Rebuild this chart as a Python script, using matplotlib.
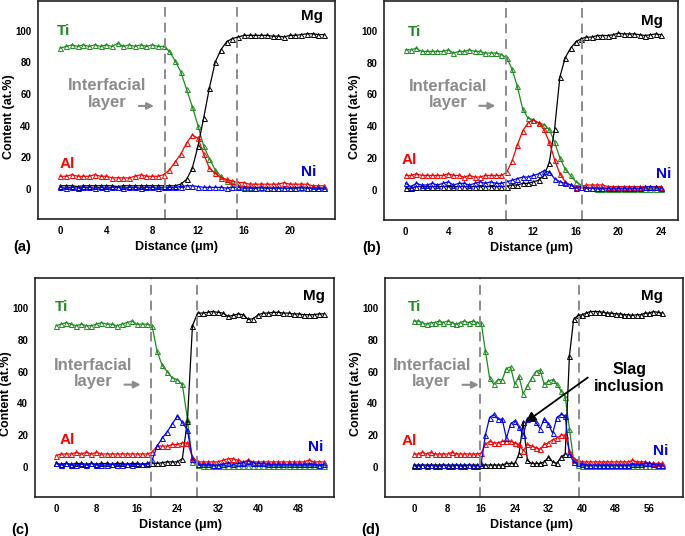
import numpy as np
import matplotlib
matplotlib.use('Agg')
import matplotlib.pyplot as plt

plt.rcParams['font.family'] = ['Liberation Sans', 'DejaVu Sans']
plt.rcParams['font.weight'] = 'bold'

# ---- panel (a): 0-23 um, step 0.5
dist_a = np.arange(0, 23.01, 0.5)
ti_a = [89, 90, 91, 90, 91, 90, 91, 90, 91, 90,
        92, 90, 91, 90, 91, 90, 91, 90, 90, 87,
        81, 74, 63, 52, 40, 27, 19, 12, 8, 5,
        3, 2, 1, 1, 0.5, 0.5, 0.5, 0.5, 0.5, 0.5,
        0.5, 0.5, 0.5, 0.5, 0.5, 0.5, 0.5]
mg_a = [2, 2, 2, 1.5, 2, 2, 2, 2, 2, 2,
        1.5, 2, 2, 2, 2, 2, 2, 2, 2, 2,
        2, 3, 6, 13, 27, 45, 64, 80, 88, 93,
        95, 96, 97, 97, 97, 97, 97, 96.5, 96.5, 96,
        97, 97, 97.5, 98, 98, 97.5, 97.5]
al_a = [8, 8, 9, 8, 8, 8, 9, 8, 8, 7,
        7, 7, 7, 8, 9, 8, 8, 8, 9, 12,
        17, 22, 29, 34, 32, 22, 13, 10, 7, 6,
        5, 4, 4, 3, 3, 3, 3, 3, 3, 4,
        3, 3, 3, 3, 2, 2, 2]
ni_a = [1, 0.5, 1, 0.5, 1, 1, 0.5, 1, 0.5, 1,
        1, 0.5, 1, 1, 0.5, 1, 1, 0.5, 1, 1,
        1, 1.5, 2, 2, 1.5, 1, 1, 1, 1, 0.5,
        1, 1, 0.5, 0.5, 0.5, 1, 0.5, 0.5, 0.5, 0.5,
        0.5, 0.5, 1, 0.5, 0.5, 0.5, 0.5]

# ---- panel (b): 0-24 um, step 0.5
dist_b = np.arange(0, 24.01, 0.5)
ti_b = [88, 88, 89, 87, 87, 87, 87, 87, 88, 86,
        87, 87, 88, 87, 87, 86, 86, 86, 85, 83,
        76, 65, 51, 45, 44, 42, 41, 38, 30, 20,
        13, 9, 5, 3, 1, 1, 0.5, 0.5, 0.5, 0.5,
        0.5, 0.5, 0.5, 0.5, 0.5, 0.5, 0.5, 0.5, 0.5]
mg_b = [1, 1, 2, 2, 2, 2, 2, 2, 2, 2,
        2, 2, 2, 2, 2, 2, 2, 2, 2, 2,
        3, 3, 4, 4, 5, 6, 9, 17, 38, 71,
        83, 89, 93, 95, 96, 96, 97, 97, 97, 97.5,
        98.5, 98, 98, 98, 97.5, 97, 97.5, 98, 97.5]
al_b = [9, 9, 10, 9, 9, 9, 9, 9, 10, 9,
        9, 8, 9, 8, 8, 9, 9, 9, 9, 11,
        18, 28, 37, 42, 44, 42, 38, 30, 19, 10,
        5, 3, 2, 2, 3, 3, 3, 3, 2, 2,
        2, 2, 2, 2, 2, 2, 2, 2, 2]
ni_b = [4, 2, 4, 3, 3, 4, 3, 4, 5, 3,
        4, 4, 3, 4, 5, 4, 5, 4, 4, 5,
        6, 7, 8, 8, 9, 10, 12, 11, 7, 5,
        4, 3, 1, 2, 1, 1, 1, 1, 1, 1,
        1, 1, 1, 1, 1, 1.5, 2, 1.5, 1]

# ---- panel (c): 0-53 um, step 1
dist_c = np.arange(0, 54, 1)
ti_c = [89, 90, 91, 90, 89, 90, 89, 89, 90, 91,
        90, 90, 89, 90, 91, 92, 90, 90, 90, 89,
        73, 64, 60, 56, 55, 52, 30, 3, 1, 0.5,
        0.5, 0.5, 0.5, 0.5, 0.5, 0.5, 0.5, 0.5, 0.5, 0.5,
        0.5, 0.5, 0.5, 0.5, 0.5, 0.5, 0.5, 0.5, 0.5, 0.5,
        0.5, 0.5, 0.5, 0.5]
mg_c = [2, 1.5, 2, 1.5, 2, 2, 1.5, 2, 1.5, 2,
        2, 1.5, 2, 2, 1.5, 2, 2, 1.5, 2, 2,
        2, 2.5, 3, 3, 3, 5, 29, 89, 97, 97,
        97.5, 98, 97.5, 97, 95, 95.5, 96.5, 96, 93, 93.5,
        96, 97, 97, 97.5, 97.5, 97, 97, 96.5, 96.5, 96,
        96, 96, 96.5, 96.5]
al_c = [7, 8, 8, 8, 9, 8, 9, 8, 9, 8,
        8, 8, 8, 8, 8, 8, 8, 8, 8, 9,
        13, 13, 13, 14, 14, 15, 15, 6, 3, 3,
        3, 3, 3, 4, 5, 5, 4, 3, 4, 3,
        3, 3, 3, 3, 3, 3, 3, 3, 3, 3,
        4, 3, 3, 3]
ni_c = [2, 1, 2, 1, 1, 1.5, 1, 2, 1, 1,
        1, 1.5, 1, 1, 1.5, 1, 1.5, 1.5, 1.5, 4,
        13, 18, 22, 27, 32, 28, 23, 5, 1.5, 1.5,
        1.5, 1, 1, 1.5, 2, 1.5, 2, 2.5, 3.5, 2.5,
        2, 2, 1.5, 1.5, 1.5, 1.5, 1.5, 1.5, 1.5, 1.5,
        1.5, 1.5, 1, 1.5]

# ---- panel (d): 0-59 um, step 1
dist_d = np.arange(0, 60, 1)
ti_d = [92, 92, 91, 90, 91, 91, 92, 91, 92, 91,
        90, 91, 92, 91, 92, 91, 91, 73, 56, 52,
        55, 55, 62, 63, 52, 57, 46, 51, 56, 60,
        61, 52, 54, 55, 52, 48, 44, 24, 4, 1,
        0.5, 0.5, 0.5, 0.5, 0.5, 0.5, 0.5, 0.5, 0.5, 0.5,
        0.5, 0.5, 0.5, 0.5, 0.5, 0.5, 0.5, 0.5, 0.5, 0.5]
mg_d = [1, 1, 1, 1, 1, 1, 1, 1, 1, 1,
        1, 1, 1, 1, 1, 1, 1, 1, 1, 1,
        1, 1, 2, 2, 2, 8, 28, 4, 2, 2,
        2, 3, 6, 3, 2, 6, 8, 70, 93, 95.5,
        96, 97, 98, 98, 98, 97.5, 97, 97, 96.5, 96.5,
        96, 96, 95.5, 96, 96, 97, 97, 98, 97.5, 97]
al_d = [8, 8, 9, 8, 9, 8, 8, 8, 8, 9,
        8, 8, 8, 8, 8, 8, 8.5, 14, 16, 15,
        15, 16, 16, 16, 15, 14, 10, 14, 13, 12,
        11, 14, 15, 17, 18, 20, 20, 10, 5, 4,
        3, 3, 3, 3, 3, 3, 3, 3, 3, 3,
        3, 3, 4, 3, 3, 3, 2, 2, 2, 2]
ni_d = [0.5, 0.5, 1, 0.5, 1, 0.5, 0.5, 1, 0.5, 0.5,
        1, 0.5, 0.5, 1, 0.5, 0.5, 2, 20, 31, 33,
        30, 30, 18, 27, 29, 25, 20, 30, 31, 28,
        24, 30, 27, 21, 31, 33, 32, 8, 3, 2,
        1.5, 1, 1, 1, 1, 1, 1, 1, 1, 1,
        1, 1, 1.5, 1.5, 1.5, 2, 2, 1.5, 1, 1]

# interface boundaries (dashed lines)
bounds_a = [9.1, 15.4]
bounds_b = [9.4, 16.6]
bounds_c = [18.7, 27.8]
bounds_d = [15.7, 39.3]

green = '#1e8c1e'
red = '#ff0000'
blue = '#0000ff'
gray = '#8c8c8c'

fig = plt.figure(figsize=(6.85, 5.36), dpi=100)


def draw_panel(rect, x, ti, mg, al, ni, bounds, xlim, xticks, letter, txt):
    ax = fig.add_axes(rect)
    kw = dict(marker='^', ms=3.6, mfc='none', mew=0.7, lw=0.9)
    ax.plot(x, ti, color=green, **kw)
    ax.plot(x, mg, color='black', **kw)
    ax.plot(x, al, color=red, **kw)
    ax.plot(x, ni, color=blue, **kw)
    for b in bounds:
        ax.axvline(b, color=gray, ls=(0, (5, 3)), lw=1.4)

    ax.set_xlim(*xlim)
    ax.set_ylim(-19, 119)
    ax.set_xticks(xticks)
    ax.set_yticks([0, 20, 40, 60, 80, 100])
    ax.tick_params(length=0, labelsize=7, pad=5)
    for s in ax.spines.values():
        s.set_linewidth(1.2)
        s.set_color('#222222')

    ax.set_xlabel('Distance (μm)', fontsize=9, fontweight='bold')
    ax.set_ylabel('Content (at.%)', fontsize=9, fontweight='bold')
    ax.xaxis.set_label_coords(txt['xlab'], -0.10)
    ax.yaxis.set_label_coords(-0.078, 0.47)
    ax.text(txt['letter'][0], txt['letter'][1], letter, transform=ax.transAxes,
            fontsize=10.5, fontweight='bold', ha='left', va='center')

    # element labels
    ax.text(*txt['Ti'], 'Ti', color=green, fontsize=11, ha='left', va='center')
    ax.text(*txt['Mg'], 'Mg', color='black', fontsize=11, ha='right', va='center')
    ax.text(*txt['Al'], 'Al', color=red, fontsize=11, ha='left', va='center')
    ax.text(*txt['Ni'], 'Ni', color=blue, fontsize=11, ha='right', va='center')

    # interfacial layer note
    ax.text(*txt['inter'], 'Interfacial\nlayer', color=gray, fontsize=12,
            ha='center', va='center', linespacing=1.1)
    (x0, x1, ya) = txt['arrow']
    ax.annotate('', xy=(x1, ya), xytext=(x0, ya),
                arrowprops=dict(arrowstyle='-|>', color=gray, lw=1.5,
                                mutation_scale=10))
    return ax


draw_panel([0.0555, 0.5914, 0.4336, 0.4076], dist_a, ti_a, mg_a, al_a, ni_a,
           bounds_a, (-1.95, 23.95), [0, 4, 8, 12, 16, 20], '(a)',
           {'xlab': 0.467, 'letter': (-0.085, -0.128),
            'Ti': (-0.3, 100), 'Mg': (22.9, 109), 'Al': (-0.1, 16),
            'Ni': (22.3, 11), 'inter': (4.05, 60), 'arrow': (6.6, 8.4, 52.4)})

draw_panel([0.561, 0.5896, 0.4288, 0.4094], dist_b, ti_b, mg_b, al_b, ni_b,
           bounds_b, (-2.0, 25.6), [0, 4, 8, 12, 16, 20, 24], '(b)',
           {'xlab': 0.5, 'letter': (-0.075, -0.128),
            'Ti': (0.25, 99), 'Mg': (24.2, 106), 'Al': (-0.4, 19),
            'Ni': (25.0, 9.6), 'inter': (4.0, 60), 'arrow': (6.67, 8.7, 52.8)})

draw_panel([0.0511, 0.0733, 0.4365, 0.4075], dist_c, ti_c, mg_c, al_c, ni_c,
           bounds_c, (-4.15, 55.0), [0, 8, 16, 24, 32, 40, 48], '(c)',
           {'xlab': 0.486, 'letter': (-0.08, -0.152),
            'Ti': (-0.2, 100.6), 'Mg': (53.2, 108), 'Al': (0.8, 17),
            'Ni': (52.9, 12.7), 'inter': (7.4, 59), 'arrow': (13.0, 17.3, 51.8)})

ax_d = draw_panel([0.562, 0.0733, 0.4355, 0.4075], dist_d, ti_d, mg_d, al_d, ni_d,
                  bounds_d, (-6.9, 64.1), [0, 8, 16, 24, 32, 40, 48, 56], '(d)',
                  {'xlab': 0.49, 'letter': (-0.08, -0.152),
                   'Ti': (-1.35, 100.6), 'Mg': (59.3, 108), 'Al': (-2.9, 16.3),
                   'Ni': (60.5, 10), 'inter': (4.2, 59), 'arrow': (10.9, 16.1, 51.7)})

ax_d.text(51.2, 56, 'Slag\ninclusion', fontsize=11.5, ha='center', va='center',
          linespacing=1.1)
ax_d.annotate('', xy=(26, 27), xytext=(41.9, 57.3),
              arrowprops=dict(arrowstyle='-|>', color='black', lw=1.3,
                              mutation_scale=15))

plt.savefig('out.png', dpi=100)
